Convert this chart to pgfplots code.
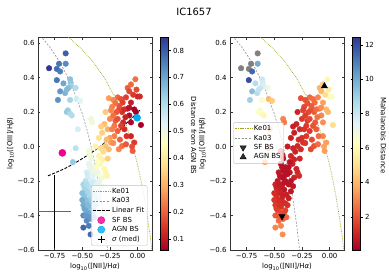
\documentclass[border=0pt]{standalone}
\usepackage{fontspec}
\setmainfont{DejaVu Sans}
\usepackage{pgfplots}
\pgfplotsset{compat=1.18}
\usepackage{pgfplotstable}

\definecolor{keol}{RGB}{165,165,30}
\definecolor{kagr}{RGB}{145,145,145}
\pgfplotsset{colormap={RdYlBu}{rgb255=(165,0,38) rgb255=(215,48,39) rgb255=(244,109,67) rgb255=(253,174,97) rgb255=(254,224,144) rgb255=(255,255,191) rgb255=(224,243,248) rgb255=(171,217,233) rgb255=(116,173,209) rgb255=(69,117,180) rgb255=(49,54,149)}}

\pgfplotstableread{
x y a m
-0.65 0.48 0.74 10.0
-0.70 0.435 0.76 11.5
-0.73 0.385 0.77 12.0
-0.67 0.366 0.70 8.5
-0.61 0.39 0.66 8.0
-0.605 0.37 0.65 7.8
-0.60 0.35 0.63 7.6
-0.56 0.34 0.60 7.0
-0.625 0.34 0.66 8.0
-0.70 0.32 0.72 9.5
-0.655 0.31 0.68 8.5
-0.64 0.33 0.67 8.2
-0.72 0.27 0.73 9.0
-0.61 0.27 0.62 6.5
-0.55 0.275 0.56 4.0
-0.52 0.265 0.53 4.5
-0.63 0.21 0.63 6.5
-0.64 0.20 0.64 6.5
-0.61 0.19 0.61 6.2
-0.595 0.18 0.60 6.0
-0.42 0.16 0.50 3.0
-0.41 0.14 0.49 2.8
-0.54 0.10 0.55 4.0
-0.56 -0.01 0.59 3.0
-0.585 -0.09 0.64 3.5
-0.44 -0.026 0.49 1.2
-0.425 -0.05 0.48 1.2
-0.35 -0.055 0.43 1.0
-0.32 -0.075 0.42 1.0
-0.335 -0.10 0.44 1.0
-0.30 -0.13 0.43 1.0
-0.29 -0.15 0.43 1.1
-0.275 -0.17 0.43 1.2
-0.29 0.003 0.33 1.1
-0.26 -0.016 0.32 1.2
-0.24 0.023 0.28 1.3
-0.31 -0.03 0.37 1.0
-0.33 -0.01 0.37 1.0
-0.27 -0.07 0.35 1.1
-0.36 -0.15 0.50 0.8
-0.32 -0.18 0.48 1.0
-0.38 0.00 0.42 0.8
-0.44 -0.10 0.52 0.5
-0.40 -0.12 0.49 0.5
-0.42 -0.14 0.52 0.5
-0.46 -0.15 0.55 0.7
-0.38 -0.16 0.50 0.5
-0.43 -0.18 0.55 0.5
-0.47 -0.20 0.59 0.8
-0.40 -0.20 0.54 0.5
-0.44 -0.22 0.58 0.6
-0.48 -0.24 0.62 1.0
-0.41 -0.25 0.58 0.7
-0.45 -0.27 0.62 0.9
-0.39 -0.28 0.59 0.8
-0.48 -0.29 0.65 1.2
-0.43 -0.30 0.63 1.0
-0.46 -0.32 0.66 1.2
-0.40 -0.33 0.63 1.2
-0.49 -0.34 0.69 1.5
-0.44 -0.35 0.67 1.4
-0.47 -0.37 0.70 1.7
-0.41 -0.38 0.68 1.8
-0.45 -0.40 0.71 2.0
-0.49 -0.40 0.74 2.2
-0.42 -0.42 0.72 2.3
-0.39 -0.41 0.70 2.4
-0.46 -0.43 0.74 2.5
-0.44 -0.46 0.76 3.0
-0.49 -0.47 0.79 3.0
-0.425 -0.51 0.79 3.2
-0.46 -0.255 0.62 1.0
-0.43 -0.235 0.59 0.8
-0.47 -0.31 0.66 1.2
-0.42 -0.325 0.64 1.2
-0.44 -0.385 0.70 1.8
-0.48 -0.36 0.70 1.6
-0.41 -0.21 0.56 0.6
-0.45 -0.17 0.56 0.6
-0.39 -0.14 0.50 0.5
-0.50 -0.27 0.66 1.2
-0.50 -0.31 0.69 1.4
-0.49 -0.22 0.62 1.0
-0.47 -0.40 0.72 2.1
-0.43 -0.41 0.72 2.2
-0.40 -0.37 0.66 1.7
-0.38 -0.34 0.63 1.3
-0.42 -0.28 0.61 0.9
-0.45 -0.34 0.67 1.3
-0.46 -0.22 0.60 0.8
-0.41 -0.17 0.53 0.5
-0.43 -0.12 0.52 0.5
-0.37 -0.12 0.47 0.5
-0.35 -0.20 0.51 0.6
-0.33 -0.23 0.52 0.7
-0.37 -0.22 0.53 0.6
-0.35 -0.26 0.55 0.7
-0.37 -0.30 0.59 0.9
-0.42 -0.07 0.50 0.6
-0.36 -0.09 0.46 0.6
-0.29 0.20 0.34 1.0
-0.30 0.13 0.32 1.0
-0.27 0.10 0.30 1.1
-0.32 0.08 0.35 0.9
-0.33 0.116 0.35 0.9
-0.35 0.05 0.38 0.9
-0.21 0.12 0.23 1.5
-0.18 0.09 0.20 1.5
-0.21 0.06 0.24 1.5
-0.16 0.04 0.20 1.8
-0.17 -0.016 0.25 1.8
-0.14 0.003 0.22 2.0
-0.105 0.013 0.19 2.5
-0.045 -0.026 0.20 3.5
-0.03 0.023 0.15 3.5
-0.06 0.06 0.12 3.0
-0.05 0.0 0.18 3.6
-0.14 0.20 0.14 2.2
-0.09 0.22 0.10 2.8
-0.075 0.18 0.08 3.0
-0.165 0.22 0.17 2.0
-0.015 0.20 0.06 4.0
0.03 0.125 0.06 5.0
-0.06 0.14 0.07 3.2
-0.26 0.28 0.28 2.0
-0.18 0.285 0.21 2.5
-0.15 0.275 0.18 2.5
-0.135 0.255 0.16 2.5
-0.105 0.285 0.16 3.0
-0.165 0.235 0.18 2.2
-0.12 0.215 0.13 2.5
-0.09 0.34 0.20 4.0
-0.075 0.32 0.17 4.0
-0.06 0.36 0.21 4.5
-0.02 0.39 0.22 6.0
0.00 0.29 0.12 6.0
-0.06 0.255 0.11 3.5
-0.075 0.225 0.09 3.2
-0.03 0.215 0.06 4.0
-0.22 0.27 0.25 2.0
-0.20 0.25 0.22 2.0
-0.23 0.23 0.24 1.8
-0.19 0.20 0.19 1.8
-0.25 0.16 0.25 1.5
-0.22 0.18 0.22 1.6
-0.24 0.21 0.25 1.7
-0.20 0.15 0.20 1.6
-0.12 0.10 0.13 2.2
-0.10 0.06 0.14 2.5
-0.13 0.14 0.13 2.2
-0.15 0.12 0.16 2.0
-0.23 0.10 0.24 1.4
-0.25 0.05 0.28 1.3
-0.22 0.02 0.26 1.4
-0.28 0.04 0.31 1.2
-0.01 0.33 0.17 5.5
-0.04 0.30 0.15 5.0
0.02 0.29 0.13 6.5
-0.11 0.17 0.11 2.6
-0.18 0.16 0.18 1.8
}\maindata

\pgfplotstableread{
x y a
-0.65 0.54 0.80
-0.71 0.48 0.77
-0.80 0.454 0.85
-0.73 0.45 0.78
}\graydata

\pgfplotsset{
  bpt/.style={
    scale only axis, width=114bp, height=213bp,
    xmin=-0.9, xmax=0.13, ymin=-0.6, ymax=0.635,
    tick align=inside, xtick pos=both, ytick pos=both,
    major tick length=2.5bp,
    axis line style={black!80, line width=0.5bp},
    every tick/.style={black!80, line width=0.5bp},
    font=\fontsize{7}{8}\selectfont,
    ticklabel style={font=\fontsize{7}{8}\selectfont},
    /pgf/number format/assume math mode=true,
    xtick={-0.75,-0.5,-0.25,0}, xticklabels={−0.75,−0.50,−0.25,0.00},
    ytick={-0.6,-0.4,-0.2,0,0.2,0.4,0.6},
    yticklabels={−0.6,−0.4,−0.2,0.0,0.2,0.4,0.6},
    xlabel={log\textsubscript{10}([NII]/H{\itshape α})},
    ylabel={log\textsubscript{10}([OIII]/H{\itshape β})},
    xlabel style={font=\fontsize{7}{8}\selectfont, yshift=2bp},
    ylabel style={font=\fontsize{7}{8}\selectfont, yshift=-3bp},
    colormap name=RdYlBu,
    colorbar,
    scatter/use mapped color={draw=mapped color, fill=mapped color},
    legend cell align=left,
    legend style={font=\fontsize{7}{8}\selectfont, draw=black!25, rounded corners=1.5bp,
      fill=white, fill opacity=0.8, text opacity=1, inner sep=1bp, row sep=-1.2bp},
  },
  cbar/.style={
    at={(parent axis.north east)}, anchor=north west, xshift=0bp,
    scale only axis, width=8bp, height=213bp,
    tick align=outside, major tick length=2bp,
    every tick/.style={black, line width=0.4bp},
    axis line style={line width=0.4bp},
    yticklabel style={font=\fontsize{7}{8}\selectfont, xshift=-1bp},
    ylabel style={font=\fontsize{7}{8}\selectfont, rotate=180, xshift=-8bp},
    /pgf/number format/assume math mode=true,
  },
}

\begin{document}
\begin{tikzpicture}
\path[use as bounding box] (0,0) rectangle (389bp,278bp);
\node[font=\fontsize{10}{12}\selectfont] at (194bp,266bp) {IC1657};

% Panel a
\begin{axis}[bpt, at={(38bp,28bp)}, anchor=south west,
  point meta min=0.06, point meta max=0.85,
  colorbar style={cbar, ytick={0.1,0.2,0.3,0.4,0.5,0.6,0.7,0.8},
    yticklabels={0.1,0.2,0.3,0.4,0.5,0.6,0.7,0.8},
    ylabel={Distance from AGN BS}},
  legend style={at={(0.96,0.02)}, anchor=south east}]
\addplot[scatter, only marks, mark=*, mark size=2.8, scatter src=explicit, forget plot]
  table[x=x, y=y, meta=a] \graydata;
\addplot[scatter, only marks, mark=*, mark size=2.8, scatter src=explicit, forget plot]
  table[x=x, y=y, meta=a] \maindata;
\addplot[keol, densely dotted, line width=0.7bp] coordinates {
(-0.65,0.645) (-0.6,0.620) (-0.5,0.561) (-0.4,0.489) (-0.3,0.398) (-0.2,0.280)
(-0.1,0.120) (-0.05,0.017) (0,-0.108) (0.03,-0.196) (0.06,-0.298) (0.09,-0.415)
(0.11,-0.504) (0.13,-0.604)};
\addlegendentry{Ke01}
\addplot[kagr, dash pattern=on 2bp off 1.5bp, line width=0.6bp] coordinates {
(-0.9,0.658) (-0.8,0.582) (-0.7,0.487) (-0.6,0.362) (-0.5,0.191) (-0.45,0.080)
(-0.4,-0.056) (-0.35,-0.225) (-0.3,-0.443) (-0.27,-0.606)};
\addlegendentry{Ka03}
\addplot[black, dash pattern=on 3bp off 1.5bp, line width=0.9bp, smooth] coordinates {
(-0.81,-0.17) (-0.65,-0.125) (-0.5,-0.07) (-0.35,-0.005) (-0.2,0.075) (-0.1,0.135) (0.02,0.21)};
\addlegendentry{Linear Fit}
\addplot[only marks, mark=*, mark size=3.6, draw=magenta, fill=magenta] coordinates {(-0.68,-0.037)};
\addlegendentry{SF BS}
\addplot[only marks, mark=*, mark size=3.6, draw=cyan, fill=cyan] coordinates {(-0.005,0.167)};
\addlegendentry{AGN BS}
\addplot[forget plot, draw=black!60, line width=0.9bp, mark=none,
  error bars/.cd, x dir=both, x explicit, error mark=none,
  error bar style={line width=0.9bp, black!60}] coordinates {(-0.75,-0.377) +- (0.15,0)};
\addplot[forget plot, draw=black, line width=0.9bp, mark=none,
  error bars/.cd, y dir=both, y explicit, error mark=none,
  error bar style={line width=0.9bp, black}] coordinates {(-0.75,-0.377) +- (0,0.21)};
\addlegendimage{only marks, mark=+, mark size=3.5, black, line width=0.8bp}
\addlegendentry{{\itshape σ} (med)}
\node[anchor=south west, font=\fontsize{7}{8}\selectfont] at (rel axis cs:0,1) [xshift=-13bp, yshift=1.5bp] {a)};
\end{axis}

% Panel b
\begin{axis}[bpt, at={(230bp,28bp)}, anchor=south west,
  point meta min=0.07, point meta max=12.45,
  colorbar style={cbar, ytick={2,4,6,8,10,12},
    ylabel={Mahalanobis Distance}},
  legend style={at={(0.027,0.60)}, anchor=north west}]
\addplot[only marks, mark=*, mark size=2.8, draw=gray, fill=gray, forget plot]
  table[x=x, y=y] \graydata;
\addplot[scatter, only marks, mark=*, mark size=2.8, scatter src=explicit, forget plot]
  table[x=x, y=y, meta=m] \maindata;
\addplot[keol, densely dotted, line width=0.7bp] coordinates {
(-0.65,0.645) (-0.6,0.620) (-0.5,0.561) (-0.4,0.489) (-0.3,0.398) (-0.2,0.280)
(-0.1,0.120) (-0.05,0.017) (0,-0.108) (0.03,-0.196) (0.06,-0.298) (0.09,-0.415)
(0.11,-0.504) (0.13,-0.604)};
\addlegendentry{Ke01}
\addplot[kagr, dash pattern=on 2bp off 1.5bp, line width=0.6bp] coordinates {
(-0.9,0.658) (-0.8,0.582) (-0.7,0.487) (-0.6,0.362) (-0.5,0.191) (-0.45,0.080)
(-0.4,-0.056) (-0.35,-0.225) (-0.3,-0.443) (-0.27,-0.606)};
\addlegendentry{Ka03}
\addplot[only marks, mark=triangle*, mark size=3.6, black, mark options={rotate=180}] coordinates {(-0.43,-0.405)};
\addlegendentry{SF BS}
\addplot[only marks, mark=triangle*, mark size=3.6, black] coordinates {(-0.047,0.35)};
\addlegendentry{AGN BS}
\node[anchor=south west, font=\fontsize{7}{8}\selectfont] at (rel axis cs:0,1) [xshift=-13bp, yshift=1.5bp] {b)};
\end{axis}
\end{tikzpicture}
\end{document}
